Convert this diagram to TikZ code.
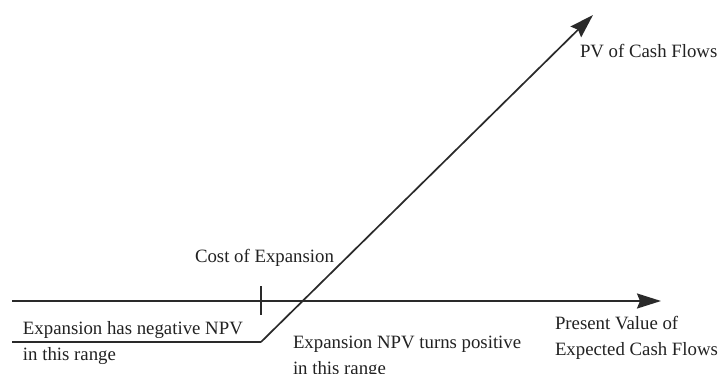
\documentclass[tikz,border=0pt]{standalone}
\usepackage{fontspec}
\setmainfont{Liberation Serif}
\usetikzlibrary{arrows.meta}
\definecolor{ink}{HTML}{222222}
\definecolor{rule}{HTML}{2a2a2a}
\tikzset{
  lbl/.style={inner sep=0pt, outer sep=0pt, text=ink, anchor=base west,
    align=left, font=\fontsize{18.8}{26}\selectfont},
  axisline/.style={draw=rule, line width=1.8pt},
  bigtip/.style={-{Stealth[length=24pt,width=15pt,inset=3pt]}}
}
\begin{document}
\begin{tikzpicture}[x=1pt,y=1pt]
  \useasboundingbox[fill=white] (0,0) rectangle (718,373);
  % horizontal axis
  \coordinate (axL) at (12,72);
  \coordinate (axR) at (661,72);
  \draw[axisline,bigtip] (axL) -- (axR);
  % tick marking the cost of expansion
  \coordinate (tickTop) at (261,87);
  \coordinate (tickBot) at (261,58);
  \draw[axisline,line width=1.5pt] (tickTop) -- (tickBot);
  % payoff: flat below the cost, then rising
  \coordinate (flatL) at (12,31);
  \coordinate (kink) at (261,31);
  \coordinate (tip) at (593,358);
  \draw[axisline,line width=1.7pt] (flatL) -- (kink);
  \draw[axisline,line width=1.7pt,bigtip,line join=miter] (kink) -- (tip);
  % labels (anchored at the baseline of their last line)
  \node[lbl] (pv) at (580,315) {PV of Cash Flows};
  \node[lbl] (cost) at (195,111) {Cost of Expansion};
  \node[lbl] (neg) at (23,13) {Expansion has negative NPV\\in this range};
  \node[lbl] (pos) at (293,-1) {Expansion NPV turns positive\\in this range};
  \node[lbl] (xlab) at (555,18) {Present Value of\\Expected Cash Flows};
\end{tikzpicture}
\end{document}
